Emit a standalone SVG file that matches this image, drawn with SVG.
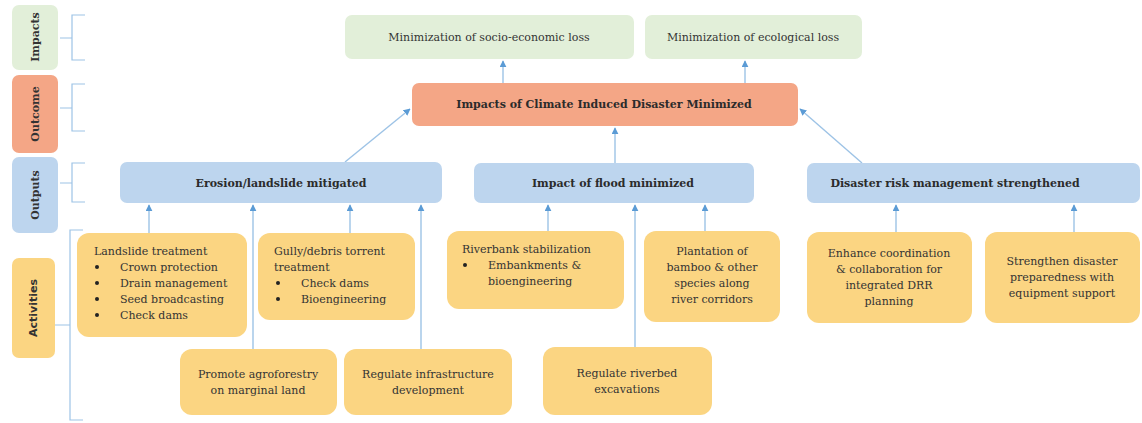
<svg xmlns="http://www.w3.org/2000/svg" width="1142" height="423" viewBox="0 0 1142 423">
<defs>
<marker id="ah" viewBox="0 0 10 10" refX="9" refY="5" markerWidth="7" markerHeight="7" orient="auto" markerUnits="userSpaceOnUse">
<path d="M0,0 L10,5 L0,10 z" fill="#5b9bd5"/>
</marker>
</defs>
<style>
.grn{fill:#e2efd9}
.org{fill:#f4a686}
.blu{fill:#bdd5ee}
.yel{fill:#fbd582}
.t{font-family:"DejaVu Serif","Liberation Serif",serif;font-size:11px;fill:#333}
.c{text-anchor:middle}
.b{font-weight:bold;font-size:11px;fill:#2b2b2b}
.v{font-family:"DejaVu Serif",serif;font-weight:bold;font-size:11px;fill:#333;text-anchor:middle}
.br{fill:none;stroke:#9dc3e6;stroke-width:1.2}
.cn{fill:none;stroke:#9dc3e6;stroke-width:1.4;marker-end:url(#ah)}
</style>
<rect width="1142" height="423" fill="#ffffff"/>

<g id="labels">
<rect x="12" y="5" width="46" height="65" rx="7" class="grn"/>
<text class="v" transform="translate(39,37) rotate(-90)">Impacts</text>
<rect x="12" y="75" width="46" height="78" rx="7" class="org"/>
<text class="v" transform="translate(39,114) rotate(-90)">Outcome</text>
<rect x="12" y="157" width="46" height="76" rx="7" class="blu"/>
<text class="v" transform="translate(39,195) rotate(-90)">Outputs</text>
<rect x="12" y="258" width="43" height="100" rx="7" class="yel"/>
<text class="v" transform="translate(37,308) rotate(-90)" style="font-family:'DejaVu Sans',sans-serif;font-size:11px">Activities</text>
</g>

<g id="brackets">
<path class="br" d="M85,15 H72 V60 H85 M60,38 H72"/>
<path class="br" d="M85,84 H72 V131 H85 M60,108 H72"/>
<path class="br" d="M85,163 H72 V202 H85 M60,183 H72"/>
<path class="br" d="M83,230 H70 V420 H83 M55,325 H70"/>
</g>

<g id="connectors">
<line class="cn" x1="503" y1="83" x2="503" y2="61"/>
<line class="cn" x1="745" y1="83" x2="745" y2="61"/>
<line class="cn" x1="615" y1="163" x2="615" y2="128"/>
<line class="cn" x1="345" y1="162" x2="410" y2="109"/>
<line class="cn" x1="862" y1="163" x2="800" y2="109"/>
<line class="cn" x1="149" y1="233" x2="149" y2="205"/>
<line class="cn" x1="253" y1="349" x2="253" y2="205"/>
<line class="cn" x1="350" y1="233" x2="350" y2="205"/>
<line class="cn" x1="421" y1="349" x2="421" y2="205"/>
<line class="cn" x1="548" y1="231" x2="548" y2="205"/>
<line class="cn" x1="635" y1="347" x2="635" y2="205"/>
<line class="cn" x1="705" y1="231" x2="705" y2="205"/>
<line class="cn" x1="896" y1="232" x2="896" y2="205"/>
<line class="cn" x1="1074" y1="232" x2="1074" y2="205"/>
</g>

<g id="impact-socio">
<rect x="345" y="15" width="289" height="44" rx="7" class="grn"/>
<text class="t c" x="489" y="41">Minimization of socio-economic loss</text>
</g>
<g id="impact-eco">
<rect x="645" y="15" width="217" height="44" rx="7" class="grn"/>
<text class="t c" x="753" y="41">Minimization of ecological loss</text>
</g>

<g id="outcome">
<rect x="412" y="83" width="386" height="43" rx="7" class="org"/>
<text class="t c b" x="604" y="108">Impacts of Climate Induced Disaster Minimized</text>
</g>

<g id="out-erosion">
<rect x="120" y="162" width="322" height="41" rx="7" class="blu"/>
<text class="t c b" x="281" y="187">Erosion/landslide mitigated</text>
</g>
<g id="out-flood">
<rect x="474" y="163" width="280" height="40" rx="7" class="blu"/>
<text class="t c b" x="613" y="187">Impact of flood minimized</text>
</g>
<g id="out-drm">
<rect x="807" y="163" width="333" height="40" rx="7" class="blu"/>
<text class="t c b" x="955" y="187">Disaster risk management strengthened</text>
</g>

<g id="act-landslide">
<rect x="77" y="233" width="170" height="104" rx="12" class="yel"/>
<text class="t" x="94" y="255">Landslide treatment</text>
<g fill="#222"><circle cx="97" cy="267" r="2"/><circle cx="97" cy="283" r="2"/><circle cx="97" cy="299" r="2"/><circle cx="97" cy="315" r="2"/></g>
<text class="t" x="120" y="271">Crown protection</text>
<text class="t" x="120" y="287">Drain management</text>
<text class="t" x="120" y="303">Seed broadcasting</text>
<text class="t" x="120" y="319">Check dams</text>
</g>
<g id="act-gully">
<rect x="258" y="233" width="157" height="87" rx="12" class="yel"/>
<text class="t" x="274" y="255">Gully/debris torrent</text>
<text class="t" x="274" y="271">treatment</text>
<g fill="#222"><circle cx="278" cy="283" r="2"/><circle cx="278" cy="299" r="2"/></g>
<text class="t" x="301" y="287">Check dams</text>
<text class="t" x="301" y="303">Bioengineering</text>
</g>
<g id="act-agro">
<rect x="180" y="349" width="157" height="66" rx="12" class="yel"/>
<text class="t c" x="258" y="378">Promote agroforestry</text>
<text class="t c" x="258" y="394">on marginal land</text>
</g>
<g id="act-infra">
<rect x="344" y="349" width="168" height="66" rx="12" class="yel"/>
<text class="t c" x="428" y="378">Regulate infrastructure</text>
<text class="t c" x="428" y="394">development</text>
</g>
<g id="act-riverbank">
<rect x="447" y="231" width="177" height="78" rx="12" class="yel"/>
<text class="t" x="462" y="253">Riverbank stabilization</text>
<circle cx="465" cy="265" r="2" fill="#222"/>
<text class="t" x="488" y="269">Embankments &amp;</text>
<text class="t" x="488" y="285">bioengineering</text>
</g>
<g id="act-plantation">
<rect x="644" y="231" width="136" height="91" rx="12" class="yel"/>
<text class="t c" x="712" y="255">Plantation of</text>
<text class="t c" x="712" y="271">bamboo &amp; other</text>
<text class="t c" x="712" y="287">species along</text>
<text class="t c" x="712" y="303">river corridors</text>
</g>
<g id="act-riverbed">
<rect x="543" y="347" width="169" height="68" rx="12" class="yel"/>
<text class="t c" x="627" y="377">Regulate riverbed</text>
<text class="t c" x="627" y="393">excavations</text>
</g>
<g id="act-coord">
<rect x="807" y="232" width="165" height="91" rx="12" class="yel"/>
<text class="t c" x="889" y="257">Enhance coordination</text>
<text class="t c" x="889" y="273">&amp; collaboration for</text>
<text class="t c" x="889" y="289">integrated DRR</text>
<text class="t c" x="889" y="305">planning</text>
</g>
<g id="act-prep">
<rect x="985" y="232" width="155" height="91" rx="12" class="yel"/>
<text class="t c" x="1062" y="265">Strengthen disaster</text>
<text class="t c" x="1062" y="281">preparedness with</text>
<text class="t c" x="1062" y="297">equipment support</text>
</g>
</svg>
